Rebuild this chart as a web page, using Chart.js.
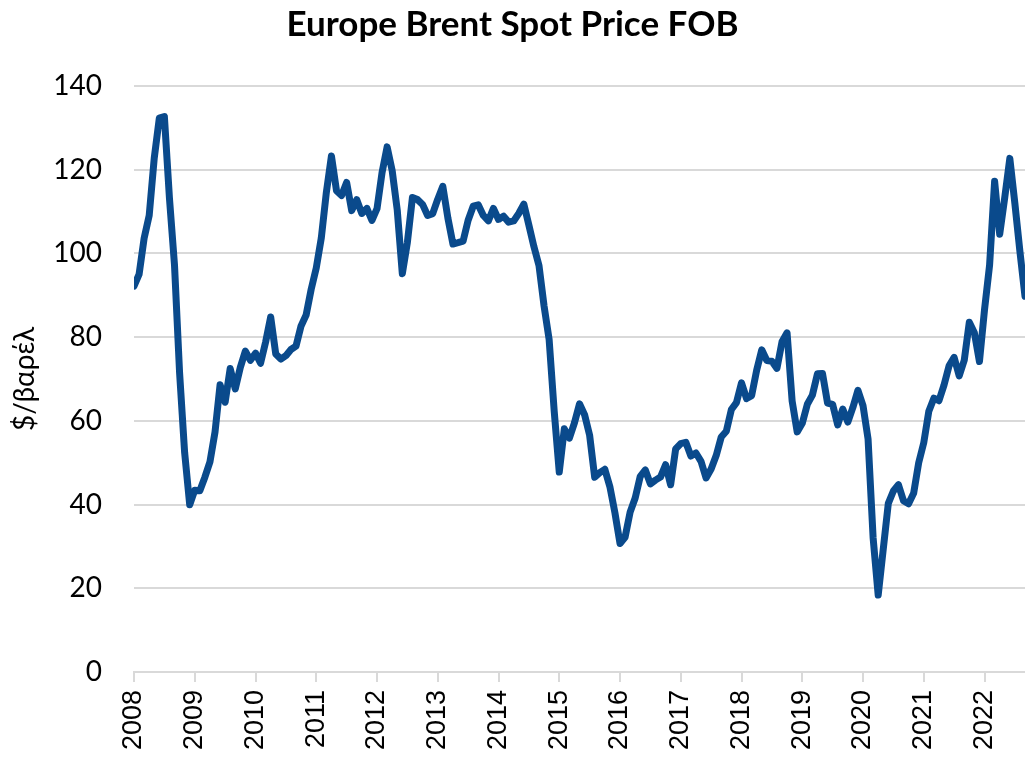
<!DOCTYPE html>
<html lang="el">
<head>
<meta charset="UTF-8">
<script src="https://cdn.jsdelivr.net/npm/chart.js"></script>
<style>
  html, body { margin: 0; padding: 0; background: #fff; }
  #wrap { width: 1025px; height: 759px; }
</style>
</head>
<body>
<div id="wrap"><canvas id="myChart"></canvas></div>
<script>
// monthly Brent prices, Jan 2008 .. Sep 2022 ($/barrel)
const startYear = 2008
const prices2008 = [92.18, 94.99, 103.64, 109.07, 122.80, 132.32, 132.72, 113.24, 97.23, 71.58, 52.45, 39.95]
const prices2009 = [43.44, 43.32, 46.54, 50.18, 57.30, 68.61, 64.44, 72.51, 67.65, 72.77, 76.66, 74.46]
const prices2010 = [76.17, 73.75, 78.83, 84.82, 75.95, 74.76, 75.58, 77.04, 77.84, 82.67, 85.28, 91.45]
const prices2011 = [96.52, 103.72, 114.64, 123.26, 114.99, 113.83, 116.97, 110.22, 112.83, 109.55, 110.77, 107.87]
const prices2012 = [110.69, 119.33, 125.45, 119.75, 110.34, 95.16, 102.62, 113.36, 112.86, 111.71, 109.06, 109.49]
const prices2013 = [112.96, 116.05, 108.47, 102.25, 102.56, 102.92, 107.93, 111.28, 111.60, 109.08, 107.79, 110.76]
const prices2014 = [108.12, 108.90, 107.48, 107.76, 109.54, 111.80, 106.77, 101.61, 97.09, 87.43, 79.44, 62.34]
const prices2015 = [47.76, 58.10, 55.89, 59.52, 64.08, 61.48, 56.56, 46.52, 47.62, 48.43, 44.27, 38.01]
const prices2016 = [30.70, 32.18, 38.21, 41.58, 46.74, 48.25, 44.95, 45.84, 46.57, 49.52, 44.73, 53.31]
const prices2017 = [54.58, 54.87, 51.59, 52.31, 50.33, 46.37, 48.48, 51.70, 56.15, 57.51, 62.71, 64.37]
const prices2018 = [69.08, 65.32, 66.02, 72.11, 76.98, 74.41, 74.25, 72.53, 78.89, 81.03, 64.75, 57.36]
const prices2019 = [59.41, 63.96, 66.14, 71.23, 71.32, 64.22, 63.92, 59.04, 62.83, 59.71, 63.21, 67.31]
const prices2020 = [63.65, 55.66, 32.01, 18.38, 29.38, 40.27, 43.24, 44.74, 40.91, 40.19, 42.69, 49.99]
const prices2021 = [54.77, 62.28, 65.41, 64.81, 68.53, 73.16, 75.17, 70.75, 74.49, 83.54, 81.05, 74.17]
const prices2022 = [86.51, 97.13, 117.25, 104.58, 113.34, 122.71, 111.93, 100.45, 89.76]

const yearLabels = ['2008', '2009', '2010', '2011', '2012', '2013', '2014', '2015',
                    '2016', '2017', '2018', '2019', '2020', '2021', '2022']
const yTicks = [0, 20, 40, 60, 80, 100, 120, 140]

const allPrices = [].concat(prices2008, prices2009, prices2010, prices2011, prices2012,
  prices2013, prices2014, prices2015, prices2016, prices2017, prices2018, prices2019,
  prices2020, prices2021, prices2022)
// x = month index from Jan 2008
const points = allPrices.map((v, i) => ({ x: i, y: v }))

const gridColor = '#d9d9d9'
const ctx = document.getElementById('myChart')
new Chart(ctx, {
  type: 'line',
  data: {
    datasets: [{
      data: points,
      borderColor: '#0a4a8c',
      borderWidth: 7,
      borderCapStyle: 'round',
      borderJoinStyle: 'round',
      pointRadius: 0,
      tension: 0,
      fill: false
    }]
  },
  options: {
    responsive: true,
    maintainAspectRatio: false,
    animation: false,
    layout: { padding: { left: 0, right: 0, top: 0, bottom: 0 } },
    plugins: {
      legend: { display: false },
      tooltip: { enabled: false },
      title: {
        display: true,
        text: 'Europe Brent Spot Price FOB',
        color: '#000',
        font: { family: 'Lato', size: 35, weight: 'bold' },
        padding: { top: 4, bottom: 40 }
      }
    },
    scales: {
      x: {
        type: 'linear',
        min: 0,
        max: allPrices.length - 1,
        afterBuildTicks: (axis) => {
          axis.ticks = yearLabels.map((y, i) => ({ value: i * 12 }))
        },
        afterFit: (axis) => { axis.height = 87 },
        ticks: {
          autoSkip: false,
          minRotation: 90,
          maxRotation: 90,
          padding: 8,
          color: '#000',
          font: { family: 'Liberation Sans', size: 27 },
          callback: (v) => yearLabels[Math.round(v / 12)]
        },
        grid: {
          drawOnChartArea: false,
          drawTicks: true,
          tickLength: 10,
          color: gridColor,
          lineWidth: 2
        },
        border: { display: true, color: gridColor, width: 2 }
      },
      y: {
        min: 0,
        max: 140,
        afterBuildTicks: (axis) => {
          axis.ticks = yTicks.map(v => ({ value: v }))
        },
        afterFit: (axis) => { axis.width = 134 },
        ticks: {
          padding: 32,
          color: '#000',
          font: { family: 'Lato', size: 28 }
        },
        grid: {
          color: gridColor,
          lineWidth: 2,
          drawTicks: false
        },
        border: { display: false },
        title: {
          display: true,
          text: '$/βαρέλ',
          color: '#000',
          font: { family: 'Lato', size: 28 },
          padding: { top: 8, bottom: 0 }
        }
      }
    }
  }
})
</script>
</body>
</html>
